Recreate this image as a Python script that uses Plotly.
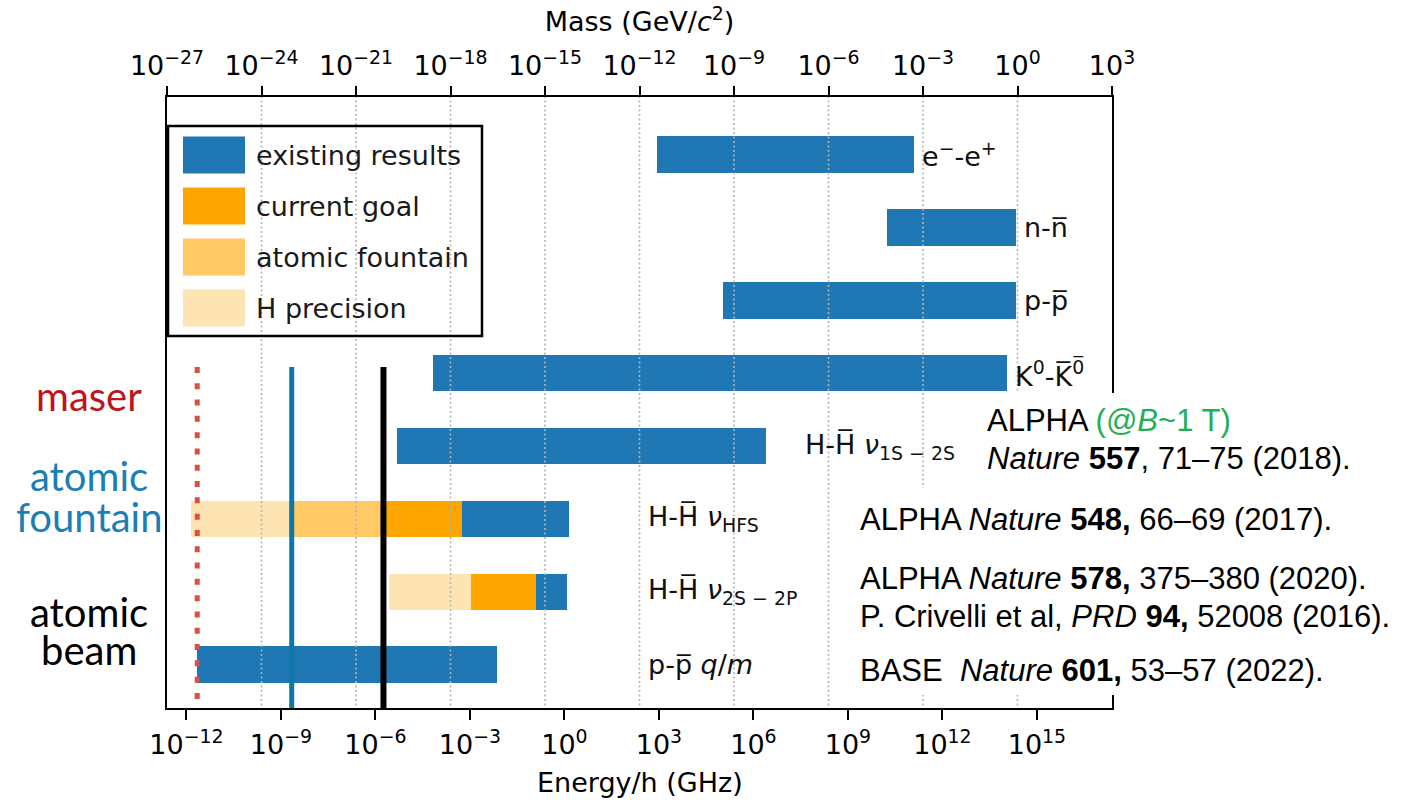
import numpy as np
import plotly.graph_objects as go

# ---------------- data ----------------
row_labels = [
    "e<sup>−</sup>-e<sup>+</sup>",
    "n-n\u0305",
    "p-p\u0305",
    "K<sup>0</sup>-K\u0305<sup>0\u0305</sup>",
    "H-H\u0305 <i>ν</i><sub>1S − 2S</sub>",
    "H-H\u0305 <i>ν</i><sub>HFS</sub>",
    "H-H\u0305 <i>ν</i><sub>2S − 2P</sub>",
    "p-p\u0305 <i>q</i>/<i>m</i>",
]
rows = list(range(len(row_labels)))

# energy ranges (GHz) per series: start / end
existing_rows = [0, 1, 2, 3, 4, 5, 6, 7]
existing_start = [9.0e2, 1.8e10, 1.05e5, 6.8e-5, 4.8e-6, 5.6e-4, 1.26e-1, 2.2e-12]
existing_end = [1.26e11, 2.2e14, 2.2e14, 1.15e14, 2.47e6, 1.42, 1.2, 7.2e-3]

goal_rows = [5, 6]
goal_start = [2.0e-6, 1.07e-3]
goal_end = [5.6e-4, 1.26e-1]

fountain_rows = [5]
fountain_start = [1.8e-9]
fountain_end = [2.0e-6]

hprec_rows = [5, 6]
hprec_start = [1.4e-12, 2.7e-6]
hprec_end = [1.8e-9, 1.07e-3]

series_names = ["existing results", "current goal", "atomic fountain", "H precision"]

# vertical reference lines (GHz)
maser_E = 2.2e-12
fountain_E = 2.2e-9
beam_E = 1.8e-6

# axis ticks
bottom_exps = [-12, -9, -6, -3, 0, 3, 6, 9, 12, 15]
top_exps = [-27, -24, -21, -18, -15, -12, -9, -6, -3, 0, 3]

# conversion GHz -> GeV/c^2
GHZ_TO_GEV = 4.135667e-15

x_title = "Energy/h (GHz)"
x2_title = "Mass (GeV/<i>c</i><sup>2</sup>)"

# citations
cit_1s2s_a = "ALPHA <span style='color:#1faf55'>(@<i>B</i>~1 T)</span>"
cit_1s2s_b = "<i>Nature</i> <b>557</b>, 71–75 (2018)."
cit_hfs = "ALPHA <i>Nature</i> <b>548,</b> 66–69 (2017)."
cit_2s2p_a = "ALPHA <i>Nature</i> <b>578,</b> 375–380 (2020)."
cit_2s2p_b = "P. Crivelli et al, <i>PRD</i> <b>94,</b> 52008 (2016)."
cit_qm = "BASE  <i>Nature</i> <b>601,</b> 53–57 (2022)."

# ---------------- style ----------------
BLUE = "#1f77b4"
ORANGE = "#ffa500"
FOUNT = "#ffc966"
HPREC = "#ffe4b3"
FONT = "DejaVu Sans"
FS = 27

L, R, T, B = 167, 1112, 97, 708
W, H = 1427, 800


def px(x):
    return (x - L) / (R - L)


def py(y):
    return (B - y) / (B - T)


fig = go.Figure()


def add_bars(rws, st, en, color, name):
    fig.add_trace(go.Bar(
        y=rws, base=st, x=[e - s for s, e in zip(st, en)],
        orientation="h", width=0.5, name=name,
        marker=dict(color=color, line=dict(width=0)),
        showlegend=False, hoverinfo="skip",
    ))


add_bars(hprec_rows, hprec_start, hprec_end, HPREC, series_names[3])
add_bars(fountain_rows, fountain_start, fountain_end, FOUNT, series_names[2])
add_bars(goal_rows, goal_start, goal_end, ORANGE, series_names[1])
add_bars(existing_rows, existing_start, existing_end, BLUE, series_names[0])

# vertical lines
fig.add_trace(go.Scatter(x=[fountain_E, fountain_E], y=[2.915, 8.0], mode="lines",
                         line=dict(color="#0b78a9", width=5), showlegend=False, hoverinfo="skip"))
fig.add_trace(go.Scatter(x=[beam_E, beam_E], y=[2.915, 8.0], mode="lines",
                         line=dict(color="black", width=6), showlegend=False, hoverinfo="skip"))
fig.add_trace(go.Scatter(x=[maser_E, maser_E], y=[2.915, 7.47], mode="lines",
                         line=dict(color="#e04b45", width=5, dash="6px,10.3px"),
                         showlegend=False, hoverinfo="skip"))

# grid lines from top (mass) axis, drawn above bars on the overlay subplot
gx, gy = [], []
for e in top_exps[1:-1]:
    gx += [10.0 ** e, 10.0 ** e, None]
    gy += [-5, 12, None]
fig.add_trace(go.Scatter(x=gx, y=gy, xaxis="x2", yaxis="y", mode="lines",
                         line=dict(color="#b3b3b3", width=1.6, dash="2px,2.5px"),
                         showlegend=False, hoverinfo="skip"))


def sup_label(e):
    s = str(e).replace("-", "−")
    return f"10<sup>{s}</sup>"


bx_lo = top_exps[0] - np.log10(GHZ_TO_GEV)
bx_hi = top_exps[-1] - np.log10(GHZ_TO_GEV)

fig.update_layout(
    width=W, height=H,
    margin=dict(l=L, r=W - R, t=T, b=H - B, pad=0),
    plot_bgcolor="white", paper_bgcolor="white",
    barmode="overlay", bargap=0,
    font=dict(family=FONT, size=FS, color="black"),
    showlegend=False,
    xaxis=dict(
        type="log", range=[bx_lo, bx_hi],
        tickvals=[10.0 ** e for e in bottom_exps],
        ticktext=[sup_label(e) for e in bottom_exps],
        ticks="outside", ticklen=10, tickwidth=2, tickcolor="black",
        showline=True, linewidth=2, linecolor="black", mirror=True,
        showgrid=False, zeroline=False, ticklabelstandoff=2,
        tickfont=dict(size=FS, family=FONT),
    ),
    xaxis2=dict(
        type="log", range=[top_exps[0], top_exps[-1]],
        overlaying="x", side="top", anchor="y",
        tickvals=[10.0 ** e for e in top_exps],
        ticktext=[sup_label(e) for e in top_exps],
        ticks="outside", ticklen=9, tickwidth=2, tickcolor="black",
        showline=True, linewidth=2, linecolor="black",
        showgrid=False, zeroline=False,
        tickfont=dict(size=FS, family=FONT),
        title=dict(text=x2_title, font=dict(size=FS, family=FONT), standoff=6),
    ),
    yaxis=dict(
        range=[7.594, -0.789], showticklabels=False, ticks="",
        showline=True, linewidth=2, linecolor="black", mirror=True,
        showgrid=False, zeroline=False,
    ),
)

shapes = []
annotations = []

# bottom axis title
annotations.append(dict(xref="paper", yref="paper", x=0.5, y=py(782), text=x_title,
                        showarrow=False, xanchor="center", yanchor="middle",
                        font=dict(family=FONT, size=FS, color="black")))

# white panels behind the citation text (as in the reference composite)
shapes.append(dict(type="rect", xref="paper", yref="paper", x0=px(975), x1=px(1427),
                   y0=py(488), y1=py(393), fillcolor="white", line=dict(width=0), layer="above"))
shapes.append(dict(type="rect", xref="paper", yref="paper", x0=px(850), x1=px(1427),
                   y0=py(695), y1=py(488), fillcolor="white", line=dict(width=0), layer="above"))

# manual legend
leg_colors = [BLUE, ORANGE, FOUNT, HPREC]
leg_y = [155, 206, 257, 308]
shapes.append(dict(type="rect", xref="paper", yref="paper", x0=px(168), x1=px(482),
                   y0=py(336), y1=py(126), line=dict(color="black", width=2.5), layer="above"))
for c, yc, name in zip(leg_colors, leg_y, series_names):
    shapes.append(dict(type="rect", xref="paper", yref="paper", x0=px(183), x1=px(245),
                       y0=py(yc + 18.5), y1=py(yc - 18.5), fillcolor=c, line=dict(width=0), layer="above"))
    annotations.append(dict(xref="paper", yref="paper", x=px(254), y=py(yc), text=name,
                            showarrow=False, xanchor="left", yanchor="middle",
                            font=dict(family=FONT, size=FS, color="#1a1a1a")))

# bar labels
label_x_override = {4: 7.57, 5: 2.59, 6: 2.59, 7: 2.59}
for i, lab in enumerate(row_labels):
    if i in label_x_override:
        xl = label_x_override[i]
        xs = 0
    else:
        xl = np.log10(existing_end[existing_rows.index(i)])
        xs = 6
    annotations.append(dict(xref="x", yref="y", x=xl, y=i, text=lab, showarrow=False,
                            xanchor="left", yanchor="middle", xshift=xs,
                            font=dict(family=FONT, size=FS, color="#111")))

# left side technique labels
LFONT = "Lato"
LFS = 40
for text, yc, col in [("maser", 396, "#c0141c"), ("atomic", 476, "#1a7fb5"),
                      ("fountain", 517, "#1a7fb5"), ("atomic", 612, "black"),
                      ("beam", 650, "black")]:
    annotations.append(dict(xref="paper", yref="paper", x=px(89), y=py(yc), text=text,
                            showarrow=False, xanchor="center", yanchor="middle",
                            font=dict(family=LFONT, size=LFS, color=col)))

# citations
CFONT = "Liberation Sans"
CFS = 31
for text, xl, yc in [(cit_1s2s_a, 985, 420), (cit_1s2s_b, 985, 458), (cit_hfs, 858, 519),
                     (cit_2s2p_a, 858, 578), (cit_2s2p_b, 858, 616), (cit_qm, 858, 670)]:
    annotations.append(dict(xref="paper", yref="paper", x=px(xl), y=py(yc), text=text,
                            showarrow=False, xanchor="left", yanchor="middle",
                            font=dict(family=CFONT, size=CFS, color="black")))

fig.update_layout(shapes=shapes, annotations=annotations)
fig.write_html("out.html")
